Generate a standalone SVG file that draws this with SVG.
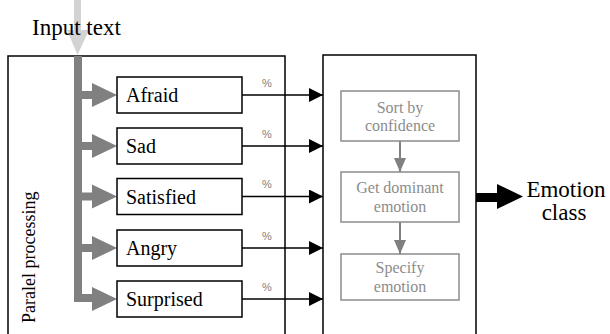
<svg xmlns="http://www.w3.org/2000/svg" width="610" height="334" viewBox="0 0 610 334">
<style>
.frame{fill:#fff;stroke:#000;stroke-width:1.5}
.box{fill:#fff;stroke:#000;stroke-width:1.5}
.gbox{fill:#fff;stroke:#8c8c8c;stroke-width:1.5}
.conn{stroke:#000;stroke-width:1.5;fill:none}
.garr{fill:#808080}
</style>
<defs>
<marker id="ah" markerWidth="14" markerHeight="14" refX="14" refY="7" orient="auto" markerUnits="userSpaceOnUse">
<path d="M0,0 L14,7 L0,14 Z" fill="#000"/>
</marker>
<marker id="gah" markerWidth="12" markerHeight="14" refX="6" refY="14" orient="0" markerUnits="userSpaceOnUse">
<path d="M0,0 L12,0 L6,14 Z" fill="#808080"/>
</marker>
</defs>

<g id="input">
<path d="M74,0 H81 V30 H89 L77.5,55 L67,30 H74 Z" fill="#d3d3d3"/>
<text x="32" y="35" font-family="Liberation Serif, serif" font-size="23" fill="#000">Input text</text>
</g>

<g id="parallel">
<rect class="frame" x="8" y="56" width="277" height="290"/>
<text font-family="Liberation Serif, serif" font-size="18" fill="#000" transform="translate(35,323) rotate(-90)">Paralel processing</text>
<path class="garr" d="M74,56 H82 V302 H74 Z"/>
</g>

<g id="aggregate">
<rect class="frame" x="323" y="55" width="153" height="290"/>
</g>

<g id="connectors">
<g class="garr">
<path d="M82,91 H92 V83 L117,95 L92,107 V99 H82 Z"/>
<path d="M82,142 H92 V134 L117,146 L92,158 V150 H82 Z"/>
<path d="M82,192.5 H92 V184.5 L117,196.5 L92,208.5 V200.5 H82 Z"/>
<path d="M82,244 H92 V236 L117,248 L92,260 V252 H82 Z"/>
<path d="M82,294 H92 V287 L117,299 L92,311 V302 H82 Z"/>
</g>
<line class="conn" x1="242" y1="95" x2="323" y2="95" marker-end="url(#ah)"/>
<line class="conn" x1="242" y1="146" x2="323" y2="146" marker-end="url(#ah)"/>
<line class="conn" x1="242" y1="196.5" x2="323" y2="196.5" marker-end="url(#ah)"/>
<line class="conn" x1="242" y1="248" x2="323" y2="248" marker-end="url(#ah)"/>
<line class="conn" x1="242" y1="299" x2="323" y2="299" marker-end="url(#ah)"/>
<line x1="400" y1="141" x2="400" y2="172" stroke="#808080" stroke-width="2" marker-end="url(#gah)"/>
<line x1="400" y1="222" x2="400" y2="254" stroke="#808080" stroke-width="2" marker-end="url(#gah)"/>
<path d="M476,193 H497 V184 L523,196.5 L497,209 V202 H476 Z" fill="#000"/>
</g>

<g font-family="Liberation Serif, serif" font-size="20" fill="#000">
<g id="afraid">
<rect class="box" x="117" y="77" width="125" height="36"/>
<text x="126" y="102">Afraid</text>
</g>
<g id="sad">
<rect class="box" x="117" y="128" width="125" height="36"/>
<text x="126" y="153">Sad</text>
</g>
<g id="satisfied">
<rect class="box" x="117" y="178.5" width="125" height="36"/>
<text x="126" y="203.5">Satisfied</text>
</g>
<g id="angry">
<rect class="box" x="117" y="230" width="125" height="36"/>
<text x="126" y="255">Angry</text>
</g>
<g id="surprised">
<rect class="box" x="117" y="281" width="125" height="36"/>
<text x="126" y="306">Surprised</text>
</g>
</g>

<g id="percent-labels" font-family="Liberation Sans, Arial, sans-serif" font-size="11" fill="#808080">
<text x="262" y="87">%</text>
<text x="262" y="138">%</text>
<text x="262" y="188">%</text>
<text x="262" y="240">%</text>
<text x="262" y="291">%</text>
</g>

<g font-family="Liberation Serif, serif" font-size="16" fill="#8c8c8c" text-anchor="middle">
<g id="sort">
<rect class="gbox" x="341" y="91" width="118" height="50"/>
<text x="400" y="113">Sort by</text>
<text x="400" y="131">confidence</text>
</g>
<g id="dominant">
<rect class="gbox" x="341" y="172" width="118" height="50"/>
<text x="400" y="193">Get dominant</text>
<text x="400" y="212">emotion</text>
</g>
<g id="specify">
<rect class="gbox" x="341" y="254" width="118" height="46"/>
<text x="400" y="273">Specify</text>
<text x="400" y="292">emotion</text>
</g>
</g>

<g id="output" font-family="Liberation Serif, serif" font-size="23" fill="#000" text-anchor="middle">
<text x="566" y="197">Emotion</text>
<text x="564" y="220">class</text>
</g>
</svg>
